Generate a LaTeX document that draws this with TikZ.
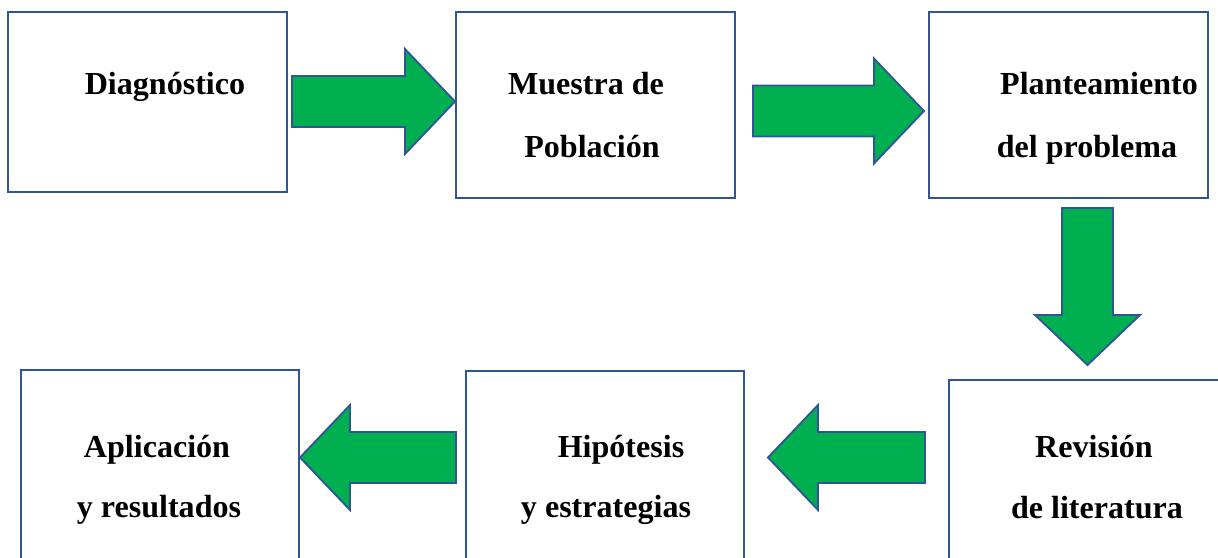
\documentclass[tikz,border=0pt]{standalone}
\usepackage{fontspec}
\setmainfont{Liberation Serif}
\definecolor{borde}{HTML}{2F5597}
\definecolor{verde}{HTML}{00B050}
\tikzset{
  caja/.style={draw=borde, line width=1.3pt, fill=white, inner sep=0pt},
  texto/.style={font=\bfseries\fontsize{22.8}{27}\selectfont, anchor=base, inner sep=0pt},
  flecha/.style={draw=borde, line width=1.3pt, fill=verde, line join=miter},
  pics/bloque/.style={code={
    \draw[flecha] (0,-25.5) -- (#1-50,-25.5) -- (#1-50,-52.5) -- (#1,0)
      -- (#1-50,52.5) -- (#1-50,25.5) -- (0,25.5) -- cycle;}}
}

\begin{document}
\begin{tikzpicture}[x=0.025cm,y=-0.025cm]
\path[use as bounding box, clip] (0,0) rectangle (1218,558);
% fila de arriba
\node (diag) [caja, minimum width=6.975cm, minimum height=4.5cm] at (147.5,102) {};
\node (muestra) [caja, minimum width=6.975cm, minimum height=4.65cm] at (595.5,105) {};
\node (plant) [caja, minimum width=6.975cm, minimum height=4.65cm] at (1068.5,105) {};
% fila de abajo
\node (revision) [caja, minimum width=7.275cm, minimum height=5.5cm] at (1094.5,490) {};
\node (hipo) [caja, minimum width=6.95cm, minimum height=5.725cm] at (605,485.5) {};
\node (aplic) [caja, minimum width=6.95cm, minimum height=5.75cm] at (160,485) {};
% textos
\node (t1) [texto] at (165,95) {Diagnóstico};
\node (t2a) [texto] at (586,95) {Muestra de};
\node (t2b) [texto] at (592,157) {Población};
\node (t3a) [texto] at (1099,95) {Planteamiento};
\node (t3b) [texto] at (1087,157) {del problema};
\node (t4a) [texto] at (1094,457) {Revisión};
\node (t4b) [texto] at (1097,518) {de literatura};
\node (t5a) [texto] at (621,457) {Hipótesis};
\node (t5b) [texto] at (606,517) {y estrategias};
\node (t6a) [texto] at (157,457) {Aplicación};
\node (t6b) [texto] at (159,517) {y resultados};
% flechas
\pic at (292,101.5) {bloque=163};
\pic at (753,111) {bloque=171};
\pic[rotate=-90] at (1087.5,208) {bloque=157};
\pic[rotate=180] at (925,457.5) {bloque=157};
\pic[rotate=180] at (456,457.5) {bloque=156};
\end{tikzpicture}
\end{document}
